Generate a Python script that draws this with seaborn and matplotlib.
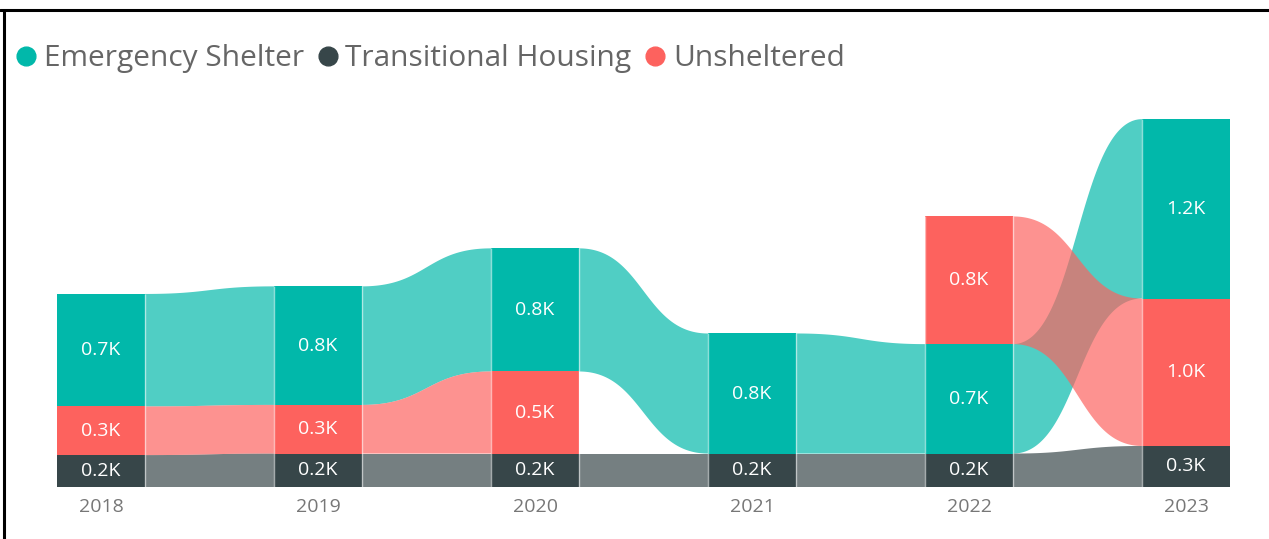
import matplotlib.pyplot as plt
import numpy as np
import seaborn as sns
from matplotlib.lines import Line2D

years = ["2018", "2019", "2020", "2021", "2022", "2023"]
series = ["Emergency Shelter", "Transitional Housing", "Unsheltered"]

# values in thousands
emergency_shelter = [0.74, 0.78, 0.81, 0.79, 0.72, 1.18]
transitional_housing = [0.21, 0.22, 0.22, 0.22, 0.22, 0.27]
unsheltered = [0.32, 0.32, 0.54, 0.0, 0.84, 0.97]

colors = ["#01B8AA", "#374649", "#FD625E"]

sns.set_theme(style="white")
plt.rcParams["font.family"] = ["Open Sans", "DejaVu Sans"]

values = np.array([emergency_shelter, transitional_housing, unsheltered])
n_series, n_years = values.shape
x = np.arange(n_years)
bar_w = 88 / 217

# ribbon chart: in each year the biggest segment sits on top
bottoms = np.zeros_like(values)
for j in range(n_years):
    running = 0.0
    for i in np.argsort(values[:, j], kind="stable"):
        bottoms[i, j] = running
        running += values[i, j]
tops = bottoms + values

fig = plt.figure(figsize=(12.69, 5.39), dpi=100)
ax = fig.add_axes([40 / 1269, 52 / 539, 1210 / 1269, 387 / 539])

t = np.linspace(0, 1, 120)
bx = 1.5 * t * (1 - t) ** 2 + 1.5 * t ** 2 * (1 - t) + t ** 3
by = 3 * t ** 2 * (1 - t) + t ** 3

for i in range(n_series):
    for j in range(n_years - 1):
        if values[i, j] <= 0 or values[i, j + 1] <= 0:
            continue
        x0 = x[j] + bar_w / 2
        x1 = x[j + 1] - bar_w / 2
        xs = x0 + (x1 - x0) * bx
        top = tops[i, j] + (tops[i, j + 1] - tops[i, j]) * by
        bot = bottoms[i, j] + (bottoms[i, j + 1] - bottoms[i, j]) * by
        ax.fill(np.concatenate([xs, xs[::-1]]), np.concatenate([top, bot[::-1]]),
                color=colors[i], alpha=0.69, lw=0, zorder=1)

# faint edge lines where the ribbons meet the bars
for j in range(n_years):
    h = tops[:, j].max()
    if j < n_years - 1:
        ax.vlines(x[j] + bar_w / 2, 0, h, color="white", alpha=0.55, lw=1, zorder=3)
    if j > 0:
        ax.vlines(x[j] - bar_w / 2, 0, h, color="white", alpha=0.55, lw=1, zorder=3)

for i in range(n_series):
    ax.bar(x, values[i], bottom=bottoms[i], width=bar_w, color=colors[i], lw=0, zorder=2)
    for j in range(n_years):
        if values[i, j] > 0:
            ax.text(x[j], bottoms[i, j] + values[i, j] / 2, f"{values[i, j]:.1f}K",
                    ha="center", va="center", color="white", fontsize=14, zorder=4)

ax.set_xlim(-61 / 217, 1149 / 217)
ax.set_ylim(0, 387 / 152)
ax.set_xticks(x)
ax.set_xticklabels(years, fontsize=14, color="#777777")
ax.tick_params(axis="x", length=0, pad=8)
ax.set_yticks([])
sns.despine(ax=ax, left=True, bottom=True)

handles = [Line2D([], [], marker="o", linestyle="", markersize=13.5, color=c) for c in colors]
fig.legend(handles, series, loc="upper left", bbox_to_anchor=(17 / 1269, 1 - 44 / 539),
           ncol=3, frameon=False, fontsize=21.5, labelcolor="#666666",
           handlelength=0.6, handletextpad=0.29, columnspacing=0.5,
           borderpad=0, borderaxespad=0)

# frame lines at the top and left of the visual
fig.add_artist(Line2D([0, 1], [1 - 9.5 / 539] * 2, color="black", lw=2.2))
fig.add_artist(Line2D([4 / 1269] * 2, [0, 1 - 9.5 / 539], color="black", lw=2.2))

fig.savefig("out.png", dpi=100)
